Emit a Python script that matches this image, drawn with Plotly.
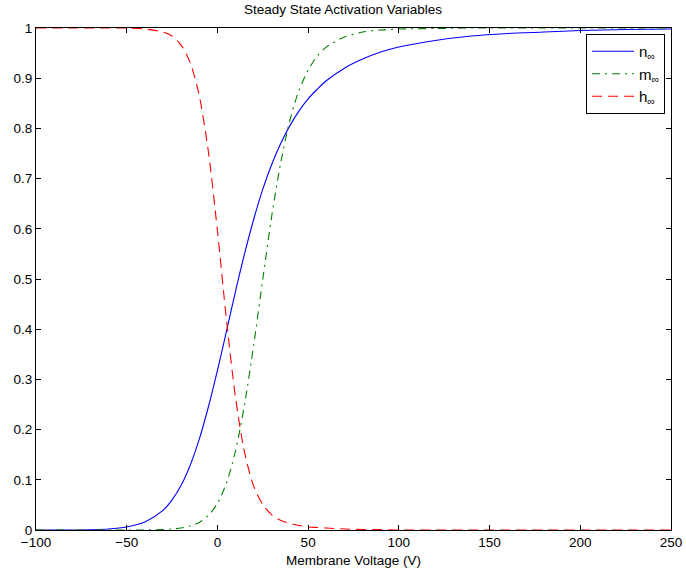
import plotly.graph_objects as go

# Membrane voltage samples (V) and the steady-state gating values at each
voltage = [-100, -80, -60, -50, -40, -30, -25, -20, -15, -10, -5, 0, 5, 10, 15,
           20, 25, 30, 35, 40, 45, 50, 55, 60, 70, 80, 90, 100, 120, 140, 160,
           180, 200, 225, 250]

n_inf = [0.000, 0.000, 0.002, 0.006, 0.016, 0.039, 0.060, 0.089, 0.129, 0.181,
         0.245, 0.318, 0.396, 0.476, 0.551, 0.619, 0.679, 0.729, 0.771, 0.806,
         0.835, 0.859, 0.878, 0.895, 0.920, 0.938, 0.952, 0.962, 0.975, 0.984,
         0.989, 0.992, 0.995, 0.997, 0.998]

m_inf = [0.000, 0.000, 0.000, 0.000, 0.000, 0.001, 0.002, 0.004, 0.008, 0.015,
         0.029, 0.053, 0.094, 0.158, 0.251, 0.369, 0.500, 0.627, 0.734, 0.817,
         0.876, 0.916, 0.944, 0.962, 0.982, 0.992, 0.996, 0.998, 0.999, 1.000,
         1.000, 1.000, 1.000, 1.000, 1.000]

h_inf = [1.000, 1.000, 1.000, 1.000, 0.998, 0.992, 0.984, 0.966, 0.931, 0.865,
         0.754, 0.596, 0.418, 0.263, 0.154, 0.087, 0.051, 0.030, 0.019, 0.013,
         0.009, 0.006, 0.005, 0.004, 0.002, 0.001, 0.001, 0.000, 0.000, 0.000,
         0.000, 0.000, 0.000, 0.000, 0.000]

x_ticks = [-100, -50, 0, 50, 100, 150, 200, 250]
y_ticks = [0, 0.1, 0.2, 0.3, 0.4, 0.5, 0.6, 0.7, 0.8, 0.9, 1]
y_tick_text = ["0", "0.1", "0.2", "0.3", "0.4", "0.5", "0.6", "0.7", "0.8", "0.9", "1"]

series = [
    ("n<sub>∞</sub>", n_inf, "#0000ff", "solid"),
    ("m<sub>∞</sub>", m_inf, "#008000", "8px,5px,2px,5px"),
    ("h<sub>∞</sub>", h_inf, "#ff0000", "10px,6px"),
]

fig = go.Figure()
for i, (name, vals, color, dash) in enumerate(series):
    fig.add_trace(go.Scatter(
        x=voltage, y=vals, name=name, mode="lines", legendgroup=f"g{i}",
        line=dict(color=color, width=1.1, dash=dash, shape="spline", smoothing=0.8),
    ))

font = "Liberation Sans, Arial, sans-serif"
fs = 13.5
axis_common = dict(
    showline=True, linecolor="black", linewidth=1, mirror="ticks",
    ticks="inside", ticklen=5, tickcolor="black", showgrid=False, zeroline=False,
    automargin=False,
    tickfont=dict(family=font, size=fs, color="black"),
)

fig.update_layout(
    width=686, height=573,
    margin=dict(l=36, r=15, t=28, b=43),
    paper_bgcolor="white", plot_bgcolor="white",
    title=dict(text="Steady State Activation Variables", x=0.5, xanchor="center",
               y=0.983, yanchor="middle",
               font=dict(family=font, size=fs, color="black")),
    xaxis=dict(range=[-100, 250], tickvals=x_ticks,
               title=dict(text="Membrane Voltage (V)", standoff=6,
                          font=dict(family=font, size=fs, color="black")),
               **axis_common),
    yaxis=dict(range=[0, 1], tickvals=y_ticks, ticktext=y_tick_text, **axis_common),
    legend=dict(x=0.9906, y=0.988, xanchor="right", yanchor="top",
                bgcolor="white", bordercolor="black", borderwidth=1,
                font=dict(family=font, size=15, color="black"),
                itemwidth=42, tracegroupgap=0),
    showlegend=True,
)

fig.write_html("out.html")
